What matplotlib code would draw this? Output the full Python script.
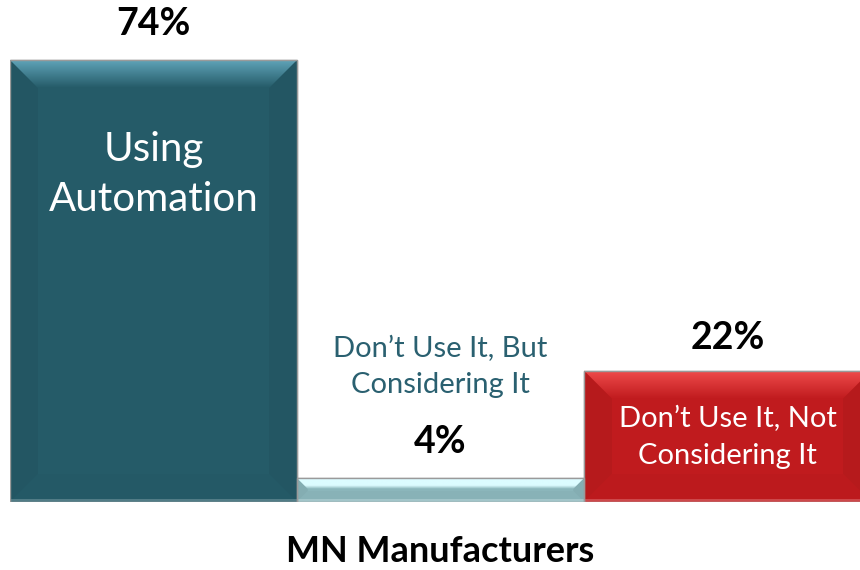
import matplotlib.pyplot as plt
import numpy as np
from matplotlib.patches import Polygon
from matplotlib.colors import to_rgb

# Data
categories = ["Using\nAutomation", "Don\u2019t Use It, But\nConsidering It", "Don\u2019t Use It, Not\nConsidering It"]
values = [74, 4, 22]
value_labels = ["74%", "4%", "22%"]
title = "MN Manufacturers"

# Colors for each bar: main face, top bevel highlight
main_colors = ["#255b68", "#8bb6bb", "#c01b1e"]
top_colors = ["#5fa3b8", "#dcfcff", "#ee4a4a"]
label_colors = ["white", "#2a6070", "white"]

plt.rcParams['font.family'] = ['Lato', 'DejaVu Sans']

fig = plt.figure(figsize=(8.6, 5.7), dpi=100)
# axes spans from bar baseline (y=502px) to top of figure; last bar runs off the right edge
bar_px = 287
ax = fig.add_axes([10 / 860, 68 / 570, 3 * bar_px / 860, 502 / 570])
ymax = 74 / 442 * 502
ax.set_xlim(-0.5, 2.5)
ax.set_ylim(0, ymax)
ax.axis("off")

x = np.arange(len(values))
bars = ax.bar(x, values, width=1.0, color=main_colors, edgecolor="#9a9a9a", linewidth=1.0, zorder=2)

# pixel -> data conversions
px_x = 1.0 / bar_px
px_y = ymax / 502


def shade(c, f):
    r = np.array(to_rgb(c))
    if f < 0:
        return tuple(r * (1 + f))
    return tuple(r + (1 - r) * f)


# fake bevel on each bar
for i, (bar, mc, tc) in enumerate(zip(bars, main_colors, top_colors)):
    x0, y0 = bar.get_x(), bar.get_y()
    x1, y1 = x0 + bar.get_width(), y0 + bar.get_height()
    hpx = bar.get_height() / px_y
    b = min(28, hpx * 0.45)
    bx, by = b * px_x, b * px_y
    # left / right sides slightly darker
    ax.add_patch(Polygon([(x0, y0), (x0, y1), (x0 + bx, y1 - by), (x0 + bx, y0 + by)],
                         closed=True, facecolor=shade(mc, -0.05), edgecolor="none", zorder=3))
    ax.add_patch(Polygon([(x1, y0), (x1, y1), (x1 - bx, y1 - by), (x1 - bx, y0 + by)],
                         closed=True, facecolor=shade(mc, -0.05), edgecolor="none", zorder=3))
    # bottom: faint
    ax.add_patch(Polygon([(x0, y0), (x1, y0), (x1 - bx, y0 + by), (x0 + bx, y0 + by)],
                         closed=True, facecolor=shade(mc, -0.02), edgecolor="none", zorder=3))
    # thin light line at the bottom edge
    ax.add_patch(Polygon([(x0, y0), (x1, y0), (x1, y0 + 3 * px_y), (x0, y0 + 3 * px_y)],
                         closed=True, facecolor=shade(mc, 0.2), edgecolor="none", zorder=3))
    # top highlight with gradient
    top = Polygon([(x0, y1), (x1, y1), (x1 - bx, y1 - by), (x0 + bx, y1 - by)],
                  closed=True, facecolor="none", edgecolor="none", zorder=4)
    ax.add_patch(top)
    grad = np.linspace(0, 1, 64)[:, None]
    if i == 1:
        grad = np.clip(grad * 3, 0, 1)
    c0, c1 = np.array(to_rgb(tc)), np.array(to_rgb(mc))
    img = (c1[None, None, :] * (1 - grad[..., None]) + c0[None, None, :] * grad[..., None])
    im = ax.imshow(img, extent=[x0, x1, y1 - by, y1], origin="lower", aspect="auto", zorder=4)
    im.set_clip_path(top)
    # redraw outline
    ax.add_patch(Polygon([(x0, y0), (x1, y0), (x1, y1), (x0, y1)], closed=True,
                         facecolor="none", edgecolor="#9a9a9a", linewidth=1.0, zorder=5))

ax.set_xlim(-0.5, 2.5)
ax.set_ylim(0, ymax)

# value labels
ax.text(0, 80, value_labels[0], ha="center", va="center", fontsize=27, fontweight="bold", color="black")
ax.text(1, 10, value_labels[1], ha="center", va="center", fontsize=27, fontweight="bold", color="black")
ax.text(2, 27.5, value_labels[2], ha="center", va="center", fontsize=27, fontweight="bold", color="black")

# category labels
ax.text(0, 54.8, categories[0], ha="center", va="center", fontsize=29, color=label_colors[0],
        linespacing=1.45, zorder=6)
ax.text(1, 22.6, categories[1], ha="center", va="center", fontsize=21, color=label_colors[1],
        linespacing=1.45, zorder=6)
ax.text(2, 10.8, categories[2], ha="center", va="center", fontsize=21, color=label_colors[2],
        linespacing=1.55, zorder=6)

fig.text(440 / 860, 1 - 552 / 570, title, ha="center", va="center", fontsize=26, fontweight="bold")

fig.savefig("out.png", dpi=100, facecolor="white")
